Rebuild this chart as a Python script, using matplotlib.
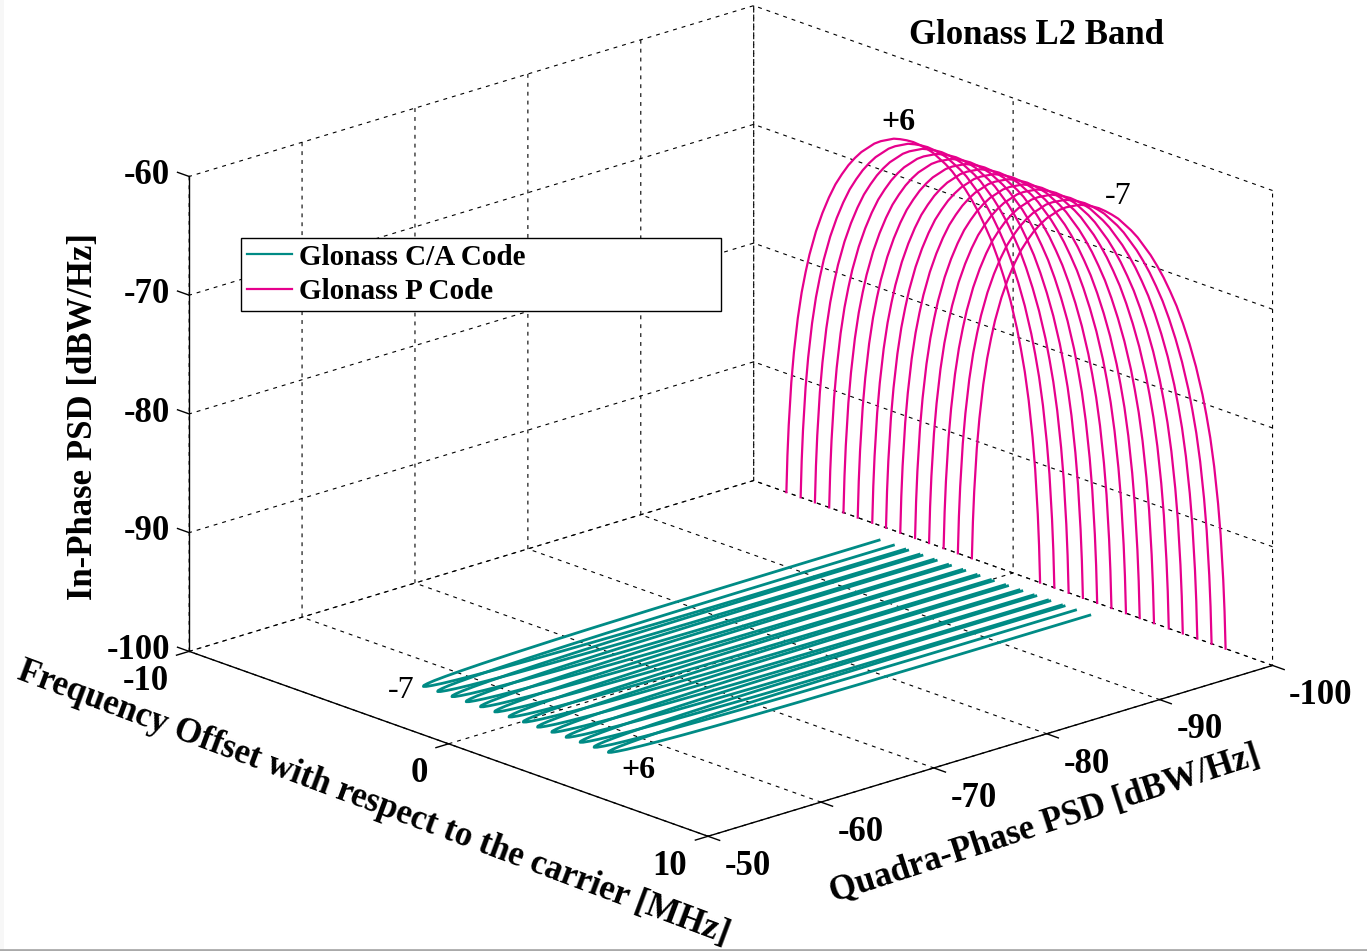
import matplotlib
matplotlib.use('Agg')
import matplotlib.pyplot as plt
import matplotlib.transforms as mtransforms
import numpy as np
from matplotlib.lines import Line2D
from matplotlib.patches import Rectangle

plt.rcParams['font.family'] = ['Liberation Serif', 'DejaVu Serif']
plt.rcParams['font.weight'] = 'bold'
plt.rcParams['axes.unicode_minus'] = False

# carrier positions of the 14 channels [MHz]
p_centres = [-3.85, -3.30, -2.75, -2.20, -1.65, -1.10, -0.54,
             -0.01, 0.54, 1.11, 1.65, 2.21, 2.76, 3.30]
ca_centres = [-3.80, -3.25, -2.70, -2.15, -1.60, -1.05, -0.50,
              0.05, 0.60, 1.15, 1.70, 2.24, 2.78, 3.33]

# P code main lobe, in-phase PSD against offset from the channel centre
p_offset = [-4.89, -4.85, -4.80, -4.70, -4.60, -4.45, -4.30, -4.15, -4.00, -3.75, -3.50, -3.25, -3.00,
            -2.75, -2.50, -2.25, -2.00, -1.75, -1.50, -1.25, -1.00, -0.75, -0.50, -0.25, 0.00,
            0.25, 0.50, 0.75, 1.00, 1.25, 1.50, 1.75, 2.00, 2.25, 2.50, 2.75, 3.00,
            3.25, 3.50, 3.75, 4.00, 4.15, 4.30, 4.45, 4.60, 4.70, 4.80, 4.85, 4.89]
p_psd = [-100.0, -96.9, -94.3, -90.6, -88.0, -85.0, -82.7, -80.9, -79.3, -77.15, -75.4, -73.9, -72.6,
         -71.55, -70.6, -69.8, -69.1, -68.55, -68.0, -67.6, -67.3, -67.0, -66.85, -66.75, -66.7,
         -66.75, -66.85, -67.0, -67.3, -67.6, -68.0, -68.55, -69.1, -69.8, -70.6, -71.55, -72.6,
         -73.9, -75.4, -77.15, -79.3, -80.9, -82.7, -85.0, -88.0, -90.6, -94.3, -96.9, -100.0]

# C/A code main lobe, quadra-phase PSD against offset from the channel centre
ca_offset = [-0.495, -0.49, -0.48, -0.46, -0.43, -0.40, -0.35, -0.30, -0.25, -0.20, -0.15, -0.10, -0.05, 0.00,
             0.05, 0.10, 0.15, 0.20, 0.25, 0.30, 0.35, 0.40, 0.43, 0.46, 0.48, 0.49, 0.495]
ca_psd = [-98.0, -90.5, -84.0, -77.8, -72.5, -69.1, -65.2, -62.4, -60.4, -58.9, -57.8, -57.1, -56.65, -56.5,
          -56.65, -57.1, -57.8, -58.9, -60.4, -62.4, -65.2, -69.1, -72.5, -77.8, -84.0, -90.5, -98.0]

freq_ticks = [-10, 0, 10]
quad_ticks = [-50, -60, -70, -80, -90, -100]
inph_ticks = [-100, -90, -80, -70, -60]

teal = '#008b85'
pink = '#e6008c'

W, H = 1367, 951
fig = plt.figure(figsize=(W / 100, H / 100), dpi=100)
fig.add_artist(Rectangle((0, 0), 4 / W, 1, transform=fig.transFigure, color='#f7f7f7', lw=0))
ax = fig.add_axes([34.5 / W, 41.7 / H, 1, 1], projection='3d', proj_type='ortho')
ax.set_box_aspect((766, 768, 503), zoom=1.22)
ax.view_init(elev=19.17, azim=-42.66)
ax.set_xlim(-10, 10, view_margin=0)
ax.set_ylim(-50, -100, view_margin=0)
ax.set_zlim(-100, -60, view_margin=0)

for c in ca_centres:
    ax.plot(np.array(ca_offset) + c, ca_psd, zs=-100, zdir='z', color=teal, lw=2.0, clip_on=False)
for c in p_centres:
    ax.plot(np.array(p_offset) + c, np.full(len(p_psd), -100), p_psd, color=pink, lw=1.6, clip_on=False)

ax.set_xticks(freq_ticks)
ax.set_yticks(quad_ticks)
ax.set_zticks(inph_ticks)
ax.tick_params(axis='both', labelsize=25, pad=0)
ax.zaxis.set_ticks_position('upper')

for axis in (ax.xaxis, ax.yaxis, ax.zaxis):
    axis.set_pane_color((1, 1, 1, 0))
    axis.pane.set_edgecolor('none')
    axis.line.set_color('k')
    axis.line.set_linewidth(1.0)
    axis._axinfo['grid'].update(color='k', linewidth=0.8, linestyle=(0, (3.5, 4.5)))
    axis._axinfo['tick'].update(inward_factor=0.0, outward_factor=-0.28, linewidth={True: 1.0, False: 1.0})
ax.zaxis._axinfo['tick'].update(outward_factor=0.28)


# Axis3D resets the label transform in get_major_ticks, so the shift goes in there
def shift_labels(axis, ha, dx, dy):
    moved = ax.transData + mtransforms.Affine2D().translate(dx, dy)
    get_ticks = axis.get_major_ticks

    def shifted_ticks(numticks=None):
        ticks = get_ticks(numticks)
        for tick in ticks:
            tick.label1.set_ha(ha)
            tick.label1.set_transform(moved)
        return ticks

    axis.get_major_ticks = shifted_ticks


shift_labels(ax.xaxis, 'right', -8, 1)
shift_labels(ax.yaxis, 'left', 5, 1)
shift_labels(ax.zaxis, 'right', 5, 17)

fig.text(1036 / W, 1 - 35 / H, 'Glonass L2 Band', fontsize=25, ha='center', va='center')
fig.text(84 / W, 1 - 416 / H, 'In-Phase PSD [dBW/Hz]', fontsize=25, rotation=90, ha='center', va='center')
fig.text(373 / W, 1 - 803 / H, 'Frequency Offset with respect to the carrier [MHz]', fontsize=25,
         rotation=-20.5, ha='center', va='center', rotation_mode='anchor')
fig.text(1045 / W, 1 - 825 / H, 'Quadra-Phase PSD [dBW/Hz]', fontsize=25,
         rotation=18, ha='center', va='center', rotation_mode='anchor')

fig.text(898 / W, 1 - 122 / H, '+6', fontsize=23, ha='center', va='center')
fig.text(1118 / W, 1 - 197 / H, '-7', fontsize=23, ha='center', va='center', weight='normal')
fig.text(401 / W, 1 - 690 / H, '-7', fontsize=23, ha='center', va='center', weight='normal')
fig.text(638 / W, 1 - 771 / H, '+6', fontsize=23, ha='center', va='center')

handles = [Line2D([], [], color=teal, lw=1.6), Line2D([], [], color=pink, lw=1.6)]
leg = fig.legend(handles, ['Glonass C/A Code', 'Glonass P Code'], loc='lower left', mode='expand',
                 bbox_to_anchor=(241 / W, 1 - 311 / H, 480 / W, 73 / H), borderaxespad=0,
                 fontsize=21, fancybox=False, framealpha=1, edgecolor='k', handlelength=1.55,
                 handletextpad=0.25, labelspacing=0.27, borderpad=0.19)
leg.get_frame().set_linewidth(1.0)

fig.add_artist(Line2D([0, 1], [1.5 / H, 1.5 / H], color='#aaaaaa', lw=2))

fig.savefig('out.png', dpi=100)
